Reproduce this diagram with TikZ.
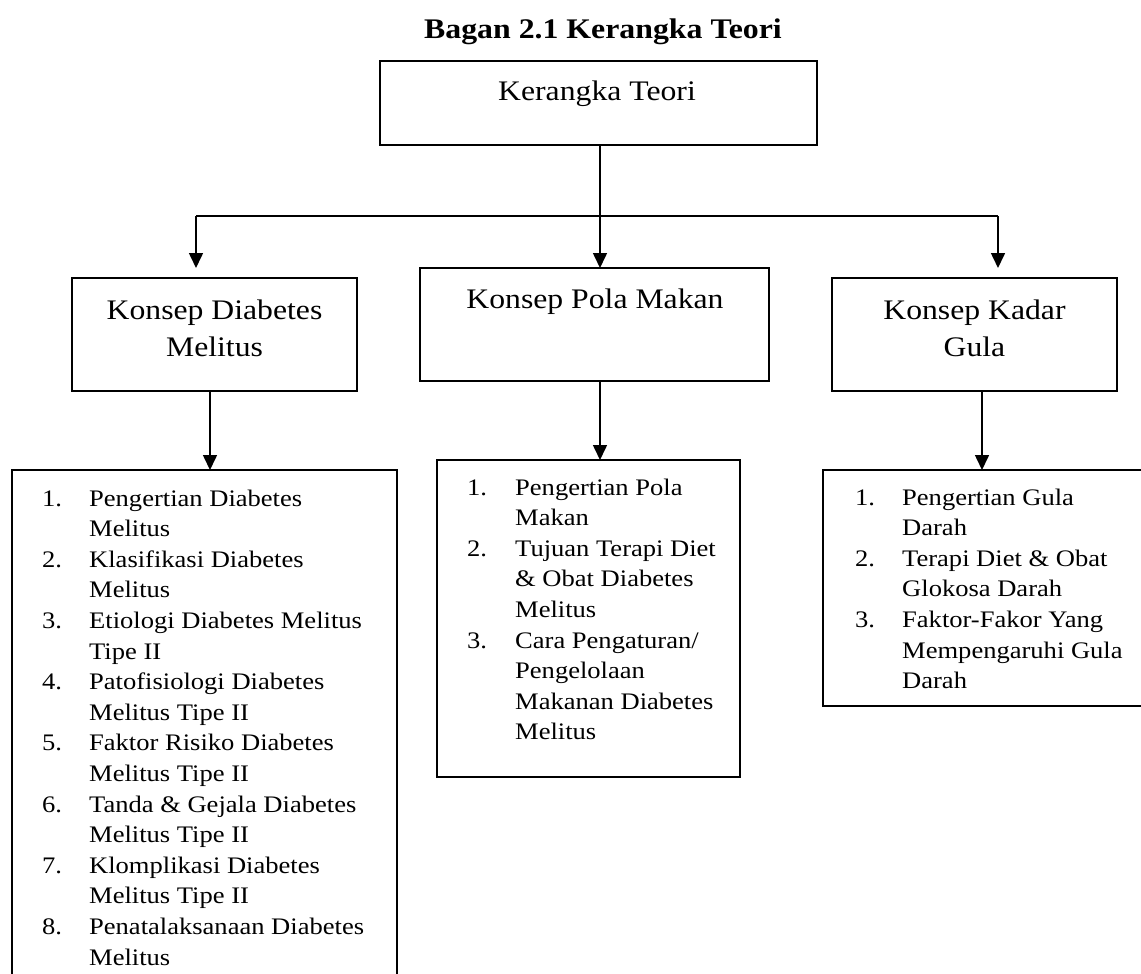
\documentclass[tikz,border=0pt]{standalone}
\usepackage{fontspec}
\setmainfont{Liberation Serif}[FakeStretch=1.12]
\usetikzlibrary{arrows.meta}
\begin{document}
\begin{tikzpicture}[x=1pt,y=-1pt,
  box/.style={draw,line width=1.8pt,rectangle,inner sep=0pt,outer sep=0pt,anchor=north west},
  big/.style={font=\fontsize{28.3}{37}\selectfont,inner sep=0pt,anchor=base},
  ttl/.style={font=\bfseries\fontsize{28.4}{34}\selectfont,inner sep=0pt,anchor=base},
  lst/.style={font=\fontsize{23.7}{30.6}\selectfont,inner sep=0pt,anchor=base west},
  con/.style={line width=1.6pt},
  arr/.style={con,-{Triangle[length=15pt,width=14pt]}},
]
\useasboundingbox (0,0) rectangle (1141,974);
\fill[white] (0,0) rectangle (1141,974);
\clip (0,0) rectangle (1141,974);

% title
\node[ttl] (title) at (603,39) {Bagan 2.1 Kerangka Teori};

% top box
\node[box,minimum width=437pt,minimum height=84pt] (top) at (380,61) {};
\node[big] (topt) at (597,100) {Kerangka Teori};

% concept boxes
\node[box,minimum width=285pt,minimum height=113pt] (kdm) at (72,278) {};
\node[big] (kdmt) at (214.5,319) {\begin{tabular}[t]{@{}c@{}}Konsep Diabetes\\Melitus\end{tabular}};

\node[box,minimum width=349pt,minimum height=113pt] (kpm) at (420,268) {};
\node[big] (kpmt) at (595,308) {Konsep Pola Makan};

\node[box,minimum width=285pt,minimum height=113pt] (kkg) at (832,278) {};
\node[big] (kkgt) at (974.5,319) {\begin{tabular}[t]{@{}c@{}}Konsep Kadar\\Gula\end{tabular}};

% list boxes
\node[box,minimum width=385pt,minimum height=530pt] (ldm) at (12,470) {};
\node[lst] (ldmt) at (42,506) {\begin{tabular}[t]{@{}p{47pt}@{}l@{}}
1. & Pengertian Diabetes\\
   & Melitus\\
2. & Klasifikasi Diabetes\\
   & Melitus\\
3. & Etiologi Diabetes Melitus\\
   & Tipe II\\
4. & Patofisiologi Diabetes\\
   & Melitus Tipe II\\
5. & Faktor Risiko Diabetes\\
   & Melitus Tipe II\\
6. & Tanda \& Gejala Diabetes\\
   & Melitus Tipe II\\
7. & Klomplikasi Diabetes\\
   & Melitus Tipe II\\
8. & Penatalaksanaan Diabetes\\
   & Melitus
\end{tabular}};

\node[box,minimum width=303pt,minimum height=317pt] (lpm) at (437,460) {};
\node[lst] (lpmt) at (467,495) {\begin{tabular}[t]{@{}p{48pt}@{}l@{}}
1. & Pengertian Pola\\
   & Makan\\
2. & Tujuan Terapi Diet\\
   & \& Obat Diabetes\\
   & Melitus\\
3. & Cara Pengaturan/\\
   & Pengelolaan\\
   & Makanan Diabetes\\
   & Melitus
\end{tabular}};

\node[box,minimum width=330pt,minimum height=236pt] (lkg) at (823,470) {};
\node[lst] (lkgt) at (855,505) {\begin{tabular}[t]{@{}p{47pt}@{}l@{}}
1. & Pengertian Gula\\
   & Darah\\
2. & Terapi Diet \& Obat\\
   & Glokosa Darah\\
3. & Faktor-Fakor Yang\\
   & Mempengaruhi Gula\\
   & Darah
\end{tabular}};

% junction coordinates
\coordinate (jn) at (600,216);
\coordinate (jl) at (196,216);
\coordinate (jr) at (998,216);
\coordinate (tl) at (196,268);
\coordinate (tr) at (998,268);
\coordinate (xa) at (210,0);
\coordinate (xb) at (600,0);
\coordinate (xc) at (982,0);

% connectors
\draw[con] (jn |- top.south) -- (jn);
\draw[con] (jl) -- (jr);
\draw[arr] (jl) -- (tl);
\draw[arr] (jn) -- (jn |- kpm.north);
\draw[arr] (jr) -- (tr);
\draw[arr] (xa |- kdm.south) -- (xa |- ldm.north);
\draw[arr] (xb |- kpm.south) -- (xb |- lpm.north);
\draw[arr] (xc |- kkg.south) -- (xc |- lkg.north);
\end{tikzpicture}
\end{document}
